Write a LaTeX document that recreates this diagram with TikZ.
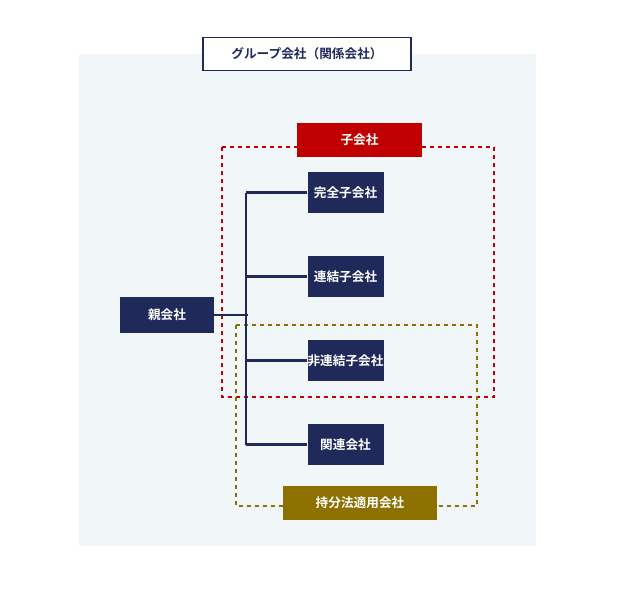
\documentclass[tikz,border=0pt]{standalone}
\usepackage{fontspec}
\setmainfont{Noto Sans CJK JP}[BoldFont={Noto Sans CJK JP Bold}]
\usetikzlibrary{positioning}
\definecolor{navy}{HTML}{1F2A5A}
\definecolor{panel}{HTML}{F1F6F8}
\definecolor{subred}{HTML}{C00000}
\definecolor{olive}{HTML}{8C7000}

\tikzset{
  entity/.style = {fill = navy, text = white, font = \bfseries\fontsize{9.5}{12}\selectfont,
    minimum width = 57pt, minimum height = 31pt, inner sep = 0pt},
  tag/.style = {text = white, font = \bfseries\fontsize{9.5}{12}\selectfont,
    minimum height = 25pt, inner sep = 0pt},
  link/.style = {draw = navy, line width = 1.6pt}
}

\begin{document}
\begin{tikzpicture}[x = 0.75pt, y = -0.75pt]
  \useasboundingbox (0, 0) rectangle (620, 608);
  \fill[panel] (79, 54) rectangle (536, 546);

  \node[draw = navy, fill = white, line width = 1.2pt, minimum width = 156pt,
  minimum height = 25pt, text = navy, font = \bfseries\fontsize{9.5}{12}\selectfont]
  (title) at (307, 54) {グループ会社（関係会社）};

  \draw[subred, dashed, line width = 1pt] (222, 147) rectangle (494, 397);
  \draw[olive, dashed, line width = 1pt] (236, 325) rectangle (477, 506);

  \node[tag, fill = subred, minimum width = 94pt] (sub) at (359.5, 140) {子会社};
  \node[tag, fill = olive, minimum width = 115pt] (equity) at (360, 503) {持分法適用会社};

  \node[entity, minimum width = 70pt, minimum height = 27pt] (parent) at (167, 315) {親会社};
  \node[entity] (full) at (345.5, 192.5) {完全子会社};
  \node[entity] (cons) at (345.5, 276.5) {連結子会社};
  \node[entity] (noncons) at (345.5, 360.5) {非連結子会社};
  \node[entity] (assoc) at (345.5, 444.5) {関連会社};

  \coordinate (top) at (246, 192.5);
  \coordinate (bottom) at (246, 444.5);
  \draw[link] (top) -- (bottom);
  \draw[link] (parent.east) -- +(34, 0);
  \foreach \n in {full, cons, noncons, assoc}
    \draw[link] (\n.west) -- (top |- \n.west);
\end{tikzpicture}
\end{document}
